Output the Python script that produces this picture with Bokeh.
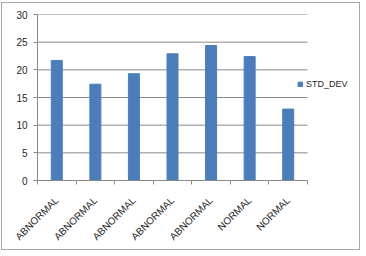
from bokeh.plotting import figure
from bokeh.models import Range1d, FixedTicker, Legend, LegendItem, ColumnDataSource
from bokeh.embed import file_html
from bokeh.resources import INLINE
import math

categories = ["ABNORMAL", "ABNORMAL", "ABNORMAL", "ABNORMAL", "ABNORMAL", "NORMAL", "NORMAL"]
std_dev = [21.7, 17.4, 19.3, 22.9, 24.4, 22.4, 12.9]
y_ticks = [0, 5, 10, 15, 20, 25, 30]
series_name = "STD_DEV"

n = len(categories)
xs = list(range(1, n + 1))
src = ColumnDataSource(dict(x=xs, top=std_dev))

GRID = "#8a8a8a"
TXT = "#262626"
FONT = "Liberation Sans"

W, H = 359, 248
ML, MR, MT, MB = 35, 0, 11, 71
frame_w = W - ML - MR
cat_span_px = 270  # width of the category area inside the frame
x_end = 0.5 + n * frame_w / cat_span_px

p = figure(width=W, height=H, x_range=Range1d(0.5, x_end),
           y_range=Range1d(0, 30), output_backend="svg", toolbar_location=None,
           min_border_left=ML, min_border_top=MT, min_border_right=MR, min_border_bottom=MB)
p.styles = {"border": "1px solid #a8a8a8", "margin-left": "1px", "margin-top": "2px"}
p.outline_line_color = None
p.background_fill_color = "white"
p.border_fill_color = "white"

# horizontal gridlines only across the category area
gy = y_ticks[1:]
p.segment(x0=[0.5] * len(gy), x1=[n + 0.5] * len(gy), y0=gy, y1=gy,
          line_color=GRID, line_width=1)

r = p.vbar(x="x", top="top", width=0.285, source=src, color="#4a7ebb")

# x axis
p.xaxis.bounds = (0.5, n + 0.5)
p.xaxis.ticker = FixedTicker(ticks=xs, minor_ticks=[i + 0.5 for i in range(n + 1)])
p.xaxis.major_label_overrides = {x: c for x, c in zip(xs, categories)}
p.xaxis.major_tick_out = 0
p.xaxis.major_tick_in = 0
p.xaxis.minor_tick_out = 4
p.xaxis.minor_tick_in = 0
p.xaxis.minor_tick_line_color = GRID
p.xaxis.axis_line_color = GRID
p.xaxis.major_label_orientation = math.pi / 4
p.xaxis.major_label_standoff = 14
p.xaxis.major_label_text_font = FONT
p.xaxis.major_label_text_font_size = "10px"
p.xaxis.major_label_text_color = TXT
p.xgrid.grid_line_color = None
p.ygrid.grid_line_color = None

# y axis
p.yaxis.ticker = FixedTicker(ticks=y_ticks)
p.yaxis.minor_tick_line_color = None
p.yaxis.major_tick_out = 4
p.yaxis.major_tick_in = 0
p.yaxis.major_tick_line_color = GRID
p.yaxis.axis_line_color = GRID
p.yaxis.major_label_standoff = 6
p.yaxis.major_label_text_font = FONT
p.yaxis.major_label_text_font_size = "10px"
p.yaxis.major_label_text_color = TXT

legend = Legend(items=[LegendItem(label=series_name, renderers=[r])],
                location=(260, 91), padding=0, margin=0, spacing=0,
                glyph_width=6, glyph_height=6, label_standoff=3,
                label_text_font=FONT, label_text_font_size="9px", label_text_color=TXT,
                border_line_color=None, background_fill_alpha=0)
p.add_layout(legend, "center")

open("out.html", "w").write(file_html(p, INLINE))
